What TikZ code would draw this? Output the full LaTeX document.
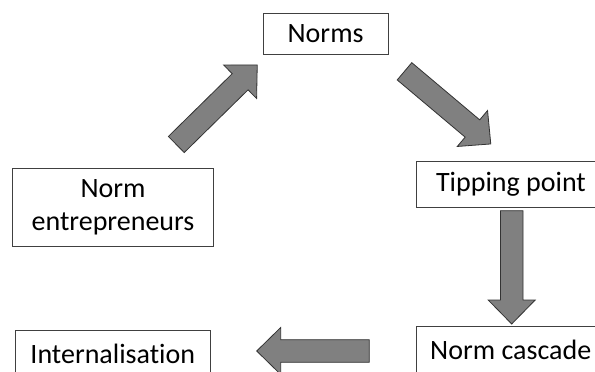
\documentclass[tikz,border=0pt]{standalone}
\usepackage{fontspec}
\setmainfont{Carlito}[Ligatures=NoCommon]
\begin{document}
\begin{tikzpicture}[x=1pt,y=-1pt,
  box/.style={draw=black!75, line width=0.8pt, fill=white, inner sep=0pt,
    font=\fontsize{28}{33.7}\selectfont, align=center},
  barrow/.style={draw=black!80, line width=0.8pt, fill=black!50, line join=miter}]
\clip (0,0) rectangle (595,372);
\fill[white] (0,0) rectangle (595,372);

\node[box, minimum width=125.3pt, minimum height=40.7pt] (norms) at (325.6,33.7) {Norms};
\node[box, minimum width=200.6pt, minimum height=77.7pt] (ent) at (113,207.2) {Norm\\entrepreneurs};
\node[box, minimum width=190pt, minimum height=45.6pt] (tip) at (511,184.5) {Tipping point};
\node[box, minimum width=188pt, minimum height=46pt] (casc) at (510.7,349.7) {Norm cascade};
\node[box, minimum width=195.7pt, minimum height=46pt] (intern) at (112.8,353.7) {Internalisation};

\coordinate (a1) at (176.3,144.5);
\coordinate (a2) at (404.5,71.3);
\coordinate (a3) at (511.7,210.7);
\coordinate (a4) at (369.3,351);

\newcommand{\blockarrow}[3]{%
  \draw[barrow, shift={(#1)}, rotate=#2]
    (0,-11.3) -- ({#3-24},-11.3) -- ({#3-24},-23.5) -- (#3,0)
    -- ({#3-24},23.5) -- ({#3-24},11.3) -- (0,11.3) -- cycle;}
\blockarrow{a1}{44.5}{113.5}
\blockarrow{a2}{-40.1}{112.8}
\blockarrow{a3}{-90}{113.3}
\blockarrow{a4}{180}{112.6}
\end{tikzpicture}
\end{document}
